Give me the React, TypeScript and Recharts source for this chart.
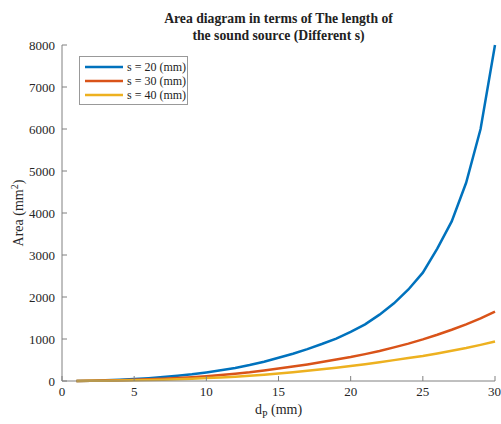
import React from "react";
import { LineChart, Line, XAxis, YAxis } from "recharts";

const dP = [1, 2, 3, 4, 5, 6, 7, 8, 9, 10, 11, 12, 13, 14, 15, 16, 17, 18, 19, 20, 21, 22, 23, 24, 25, 26, 27, 28, 29, 30];
const s20 = [2, 8, 17, 30, 47, 68, 93, 123, 160, 205, 255, 310, 380, 460, 555, 650, 760, 880, 1010, 1170, 1350, 1580, 1850, 2180, 2580, 3150, 3800, 4720, 6000, 8000];
const s30 = [1, 4, 9, 17, 27, 39, 54, 71, 91, 115, 142, 172, 207, 250, 300, 345, 395, 450, 510, 570, 640, 715, 800, 890, 990, 1100, 1220, 1350, 1490, 1650];
const s40 = [1, 3, 6, 10, 16, 23, 32, 43, 55, 70, 86, 104, 124, 150, 180, 210, 242, 278, 316, 357, 400, 447, 497, 545, 595, 655, 720, 785, 860, 940];

const xTicks = [0, 5, 10, 15, 20, 25, 30];
const yTicks = [0, 1000, 2000, 3000, 4000, 5000, 6000, 7000, 8000];

const SERIES = [
  { key: "s20", name: "s = 20 (mm)", color: "#0072BD" },
  { key: "s30", name: "s = 30 (mm)", color: "#D95319" },
  { key: "s40", name: "s = 40 (mm)", color: "#EDB120" },
];

const rows = dP.map((d, i) => ({ d, s20: s20[i], s30: s30[i], s40: s40[i] }));

const FONT = "'Liberation Serif', 'Times New Roman', serif";
const AXIS = "#808080";
const tickStyle = { fontFamily: FONT, fontSize: 13, fill: "#262626" };

function LegendBox() {
  return (
    <div
      style={{
        position: "absolute",
        left: 79,
        top: 56,
        width: 109,
        height: 49,
        border: "1px solid #999",
        background: "#fff",
        padding: "3px 0 0 4px",
        boxSizing: "border-box",
        fontFamily: FONT,
        fontSize: 12,
        color: "#222",
      }}
    >
      {SERIES.map((s) => (
        <div key={s.key} style={{ display: "flex", alignItems: "center", height: 14 }}>
          <svg width={40} height={6} style={{ marginRight: 3 }}>
            <line x1={1} y1={3} x2={39} y2={3} stroke={s.color} strokeWidth={2.5} />
          </svg>
          <span style={{ whiteSpace: "nowrap" }}>{s.name}</span>
        </div>
      ))}
    </div>
  );
}

export default function App() {
  return (
    <div style={{ position: "relative", width: 501, height: 424, background: "#fff" }}>
      <style>{`body{margin:0}`}</style>
      <div
        style={{
          position: "absolute",
          left: 62,
          width: 433,
          top: 10,
          textAlign: "center",
          fontFamily: FONT,
          fontWeight: "bold",
          fontSize: 13.7,
          lineHeight: "17px",
          color: "#222",
        }}
      >
        Area diagram in terms of The length of
        <br />
        the sound source (Different s)
      </div>
      <LineChart width={501} height={424} data={rows} margin={{ top: 45, right: 6, bottom: 0, left: 0 }}>
        <XAxis
          dataKey="d"
          type="number"
          domain={[0, 30]}
          ticks={xTicks}
          tick={tickStyle}
          tickSize={-5}
          tickMargin={11}
          stroke={AXIS}
          height={43}
          label={{
            content: (p: any) => {
              const vb = p.viewBox;
              return (
                <text x={vb.x + vb.width / 2} y={vb.y + 33} textAnchor="middle" fontFamily={FONT} fontSize={14} fill="#262626">
                  <tspan>d</tspan>
                  <tspan fontSize={10} dy={4}>P</tspan>
                  <tspan dy={-4}> (mm)</tspan>
                </text>
              );
            },
          }}
        />
        <XAxis
          xAxisId="top"
          orientation="top"
          dataKey="d"
          type="number"
          domain={[0, 30]}
          ticks={xTicks}
          tickFormatter={() => ""}
          tickSize={-5}
          stroke={AXIS}
          height={0}
        />
        <YAxis
          type="number"
          domain={[0, 8000]}
          ticks={yTicks}
          tick={tickStyle}
          tickSize={-5}
          tickMargin={12}
          stroke={AXIS}
          width={62}
          label={{
            content: (p: any) => {
              const vb = p.viewBox;
              const cx = 23;
              const cy = vb.y + vb.height / 2;
              return (
                <text x={cx} y={cy} textAnchor="middle" transform={`rotate(-90 ${cx} ${cy})`} fontFamily={FONT} fontSize={14} fill="#262626">
                  <tspan>Area (mm</tspan>
                  <tspan fontSize={10} dy={-5}>2</tspan>
                  <tspan dy={5}>)</tspan>
                </text>
              );
            },
          }}
        />
        <YAxis
          yAxisId="right"
          orientation="right"
          type="number"
          domain={[0, 8000]}
          ticks={yTicks}
          tickFormatter={() => ""}
          tickSize={-5}
          stroke={AXIS}
          width={0}
        />
        {SERIES.map((s) => (
          <Line
            key={s.key}
            dataKey={s.key}
            name={s.name}
            stroke={s.color}
            strokeWidth={2.5}
            dot={false}
            type="linear"
            isAnimationActive={false}
          />
        ))}
      </LineChart>
      <LegendBox />
    </div>
  );
}
